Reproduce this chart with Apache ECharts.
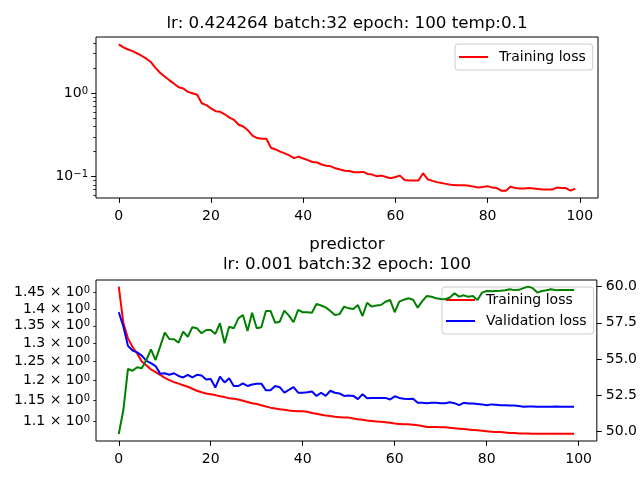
<!DOCTYPE html>
<html>
<head>
<meta charset="utf-8">
<script src="https://cdn.jsdelivr.net/npm/echarts@6/dist/echarts.min.js"></script>
<style>
  html, body { margin: 0; padding: 0; background: #fff; }
  #main { width: 640px; height: 480px; }
</style>
</head>
<body>
<div id="main"></div>
<script>
var chart = echarts.init(document.getElementById('main'));

// top panel: training loss per epoch (log scale)
var topLoss = [
  3.85, 3.55, 3.35, 3.2, 3.0, 2.8, 2.6, 2.35, 2.0, 1.75,
  1.58, 1.43, 1.3, 1.18, 1.14, 1.04, 1.0, 0.96, 0.76, 0.72,
  0.66, 0.61, 0.60, 0.56, 0.51, 0.48, 0.42, 0.40, 0.36, 0.31,
  0.29, 0.285, 0.285, 0.222, 0.212, 0.200, 0.190, 0.180, 0.167, 0.174,
  0.165, 0.158, 0.150, 0.148, 0.140, 0.135, 0.133, 0.126, 0.122, 0.118,
  0.117, 0.113, 0.113, 0.114, 0.108, 0.106, 0.101, 0.103, 0.099, 0.096,
  0.099, 0.103, 0.091, 0.090, 0.090, 0.090, 0.110, 0.093, 0.089, 0.086,
  0.084, 0.082, 0.080, 0.079, 0.079, 0.079, 0.078, 0.076, 0.074, 0.075,
  0.077, 0.074, 0.073, 0.068, 0.068, 0.076, 0.073, 0.072, 0.072, 0.073,
  0.072, 0.071, 0.070, 0.070, 0.070, 0.074, 0.073, 0.073, 0.068, 0.072
];

// bottom panel: predictor losses (left, log) and accuracy (right)
var predTrain = [
  1.469, 1.358, 1.314, 1.29, 1.272, 1.25, 1.24, 1.229, 1.222, 1.215,
  1.207, 1.201, 1.196, 1.192, 1.188, 1.184, 1.179, 1.174, 1.170, 1.167,
  1.165, 1.163, 1.160, 1.158, 1.155, 1.154, 1.152, 1.149, 1.146, 1.143,
  1.141, 1.138, 1.135, 1.132, 1.130, 1.128, 1.127, 1.125, 1.124, 1.123,
  1.123, 1.122, 1.119, 1.117, 1.115, 1.113, 1.112, 1.110, 1.109, 1.108,
  1.108, 1.106, 1.104, 1.103, 1.101, 1.100, 1.099, 1.098, 1.097, 1.096,
  1.094, 1.093, 1.092, 1.092, 1.091, 1.090, 1.088, 1.086, 1.086, 1.086,
  1.085, 1.085, 1.084, 1.083, 1.082, 1.081, 1.080, 1.079, 1.078, 1.077,
  1.076, 1.075, 1.074, 1.074, 1.073, 1.072, 1.072, 1.071, 1.071, 1.071,
  1.070, 1.070, 1.070, 1.070, 1.070, 1.070, 1.070, 1.070, 1.070, 1.070
];

var predVal = [
  1.390, 1.348, 1.293, 1.280, 1.275, 1.266, 1.252, 1.246, 1.238, 1.218,
  1.219, 1.215, 1.219, 1.212, 1.208, 1.215, 1.208, 1.215, 1.213, 1.203,
  1.204, 1.182, 1.210, 1.195, 1.206, 1.186, 1.186, 1.193, 1.186, 1.190,
  1.192, 1.192, 1.175, 1.175, 1.186, 1.183, 1.169, 1.176, 1.183, 1.169,
  1.169, 1.170, 1.172, 1.161, 1.169, 1.161, 1.174, 1.169, 1.167, 1.161,
  1.162, 1.161, 1.153, 1.165, 1.155, 1.156, 1.156, 1.156, 1.156, 1.152,
  1.160, 1.156, 1.154, 1.153, 1.154, 1.144, 1.144, 1.143, 1.144, 1.144,
  1.143, 1.143, 1.145, 1.143, 1.138, 1.144, 1.142, 1.142, 1.141, 1.140,
  1.138, 1.140, 1.139, 1.138, 1.138, 1.137, 1.137, 1.136, 1.134, 1.135,
  1.135, 1.134, 1.134, 1.134, 1.134, 1.135, 1.134, 1.134, 1.134, 1.134
];

var predAcc = [
  49.81, 51.47, 54.31, 54.19, 54.43, 54.36, 54.93, 55.67, 54.93, 55.85,
  56.82, 56.38, 56.36, 56.13, 56.89, 56.54, 57.19, 57.12, 56.78, 57.0,
  57.0, 56.73, 57.47, 56.09, 57.23, 57.12, 57.81, 58.04, 56.94, 58.2,
  57.12, 57.19, 58.32, 58.32, 57.51, 57.58, 58.34, 58.0, 57.54, 58.39,
  58.23, 58.23, 58.2, 58.8, 58.7, 58.57, 58.32, 58.04, 58.1, 58.62,
  58.5, 58.46, 58.73, 57.97, 58.89, 58.62, 58.7, 58.73, 58.96, 59.08,
  58.23, 58.96, 59.1, 59.2, 59.1, 58.55, 59.0, 59.36, 59.3, 59.2,
  59.15, 59.13, 59.25, 59.54, 59.31, 59.4, 59.3, 59.35, 59.08, 59.59,
  59.7, 59.68, 59.7, 59.72, 59.75, 59.82, 59.76, 59.78, 59.9, 60.0,
  59.9, 59.59, 59.7, 59.75, 59.82, 59.76, 59.77, 59.77, 59.77, 59.77
];

var xTicks = [0, 20, 40, 60, 80, 100];
var topMajor = [0.1, 1];
var topMinor = [0.06, 0.07, 0.08, 0.09, 0.2, 0.3, 0.4, 0.5, 0.6, 0.7, 0.8, 0.9, 2, 3, 4];
var lossTicks = [1.1, 1.15, 1.2, 1.25, 1.3, 1.35, 1.4, 1.45];
var accTicks = [50, 52.5, 55, 57.5, 60];

function pairs(arr) {
  var out = [];
  for (var i = 0; i < arr.length; i++) out.push([i, arr[i]]);
  return out;
}

var FONT = 'DejaVu Sans';
var plainLabel = { color: '#000', fontFamily: FONT, fontSize: 14, lineHeight: 15, hideOverlap: false };
// labels with a raised exponent, kept short so no label gets hidden
var powLabelStyle = {
  color: '#000', fontFamily: FONT, fontSize: 14, hideOverlap: false,
  rich: {
    n: { fontFamily: FONT, fontSize: 14, color: '#000', lineHeight: 14, verticalAlign: 'bottom' },
    s: { fontFamily: FONT, fontSize: 10, color: '#000', lineHeight: 4, verticalAlign: 'top' }
  }
};

function xAxisFor(grid) {
  return {
    type: 'value', gridIndex: grid, min: -4.95, max: 103.95,
    axisLine: { show: false, onZero: false },
    axisTick: { show: true, length: 4.9, customValues: xTicks, lineStyle: { color: '#000', width: 1 } },
    axisLabel: Object.assign({}, plainLabel, { margin: 11, customValues: xTicks }),
    splitLine: { show: false }
  };
}

function powLabel(v) {
  var p = Math.round(Math.log10(v));
  return '{n|10}{s|' + (p < 0 ? '\u2212' + (-p) : p) + '}';
}

var legendBase = {
  orient: 'vertical', icon: 'rect',
  padding: [6, 7, 6, 4], itemWidth: 29, itemHeight: 2, itemGap: 7,
  backgroundColor: 'rgba(255,255,255,0.8)', borderColor: '#cccccc', borderWidth: 1, borderRadius: 3,
  textStyle: { fontFamily: FONT, fontSize: 14, lineHeight: 14, color: '#000', padding: [0, 0, 0, 6] }
};

var option = {
  animation: false,
  backgroundColor: '#fff',
  title: [
    {
      text: 'lr: 0.424264 batch:32 epoch: 100 temp:0.1',
      left: 347, top: 14, textAlign: 'center', padding: 0,
      textStyle: { fontFamily: FONT, fontSize: 16.7, fontWeight: 'normal', color: '#000', lineHeight: 20 }
    },
    {
      text: 'predictor\nlr: 0.001 batch:32 epoch: 100',
      left: 347, top: 234, textAlign: 'center', padding: 0,
      textStyle: { fontFamily: FONT, fontSize: 16.7, fontWeight: 'normal', color: '#000', lineHeight: 20.7 }
    }
  ],
  legend: [
    Object.assign({}, legendBase, { data: ['Training loss'], left: 455, top: 44 }),
    Object.assign({}, legendBase, { data: ['Training loss', 'Validation loss'], left: 442, top: 287, z: 1 })
  ],
  grid: [
    { left: 96, right: 42, top: 37, height: 161, show: true, borderColor: '#000', borderWidth: 1, backgroundColor: 'transparent' },
    { left: 96, right: 42, top: 280, height: 161, show: true, borderColor: '#000', borderWidth: 1, backgroundColor: 'transparent' }
  ],
  xAxis: [xAxisFor(0), xAxisFor(1)],
  yAxis: [
    {
      type: 'log', logBase: 10, gridIndex: 0, min: 0.0555, max: 4.73, position: 'left',
      axisLine: { show: false, onZero: false },
      axisTick: { show: true, length: 4.9, customValues: topMajor, lineStyle: { color: '#000', width: 1 } },
      axisLabel: Object.assign({}, powLabelStyle, { margin: 8, customValues: topMajor, formatter: powLabel }),
      splitLine: { show: false }
    },
    {
      type: 'log', logBase: 10, gridIndex: 0, min: 0.0555, max: 4.73, position: 'left',
      axisLine: { show: false, onZero: false },
      axisTick: { show: true, length: 2.8, customValues: topMinor, lineStyle: { color: '#000', width: 0.8 } },
      axisLabel: { show: false },
      splitLine: { show: false }
    },
    {
      type: 'log', logBase: 10, gridIndex: 1, min: 1.0536, max: 1.49, position: 'left',
      axisLine: { show: false, onZero: false },
      axisTick: { show: true, length: 2.8, customValues: lossTicks, lineStyle: { color: '#000', width: 0.8 } },
      axisLabel: Object.assign({}, powLabelStyle, {
        margin: 6, customValues: lossTicks,
        formatter: function (v) { return '{n|' + (+v.toFixed(2)) + ' \u00D7 10}{s|0}'; }
      }),
      splitLine: { show: false }
    },
    {
      type: 'value', gridIndex: 1, min: 49.33, max: 60.46, position: 'right',
      axisLine: { show: false, onZero: false },
      axisTick: { show: true, length: 4.9, customValues: accTicks, lineStyle: { color: '#000', width: 1 } },
      axisLabel: Object.assign({}, plainLabel, {
        margin: 9, customValues: accTicks,
        formatter: function (v) { return v.toFixed(1); }
      }),
      splitLine: { show: false }
    }
  ],
  series: [
    {
      name: 'Training loss', type: 'line', xAxisIndex: 0, yAxisIndex: 0,
      data: pairs(topLoss), showSymbol: false, symbol: 'none',
      lineStyle: { color: '#ff0000', width: 2 }, itemStyle: { color: '#ff0000' }
    },
    {
      name: 'Training loss', type: 'line', xAxisIndex: 1, yAxisIndex: 2,
      data: pairs(predTrain), showSymbol: false, symbol: 'none',
      lineStyle: { color: '#ff0000', width: 2 }, itemStyle: { color: '#ff0000' }
    },
    {
      name: 'Validation loss', type: 'line', xAxisIndex: 1, yAxisIndex: 2,
      data: pairs(predVal), showSymbol: false, symbol: 'none',
      lineStyle: { color: '#0000ff', width: 2 }, itemStyle: { color: '#0000ff' }
    },
    {
      name: 'Accuracy', type: 'line', xAxisIndex: 1, yAxisIndex: 3, z: 5,
      data: pairs(predAcc), showSymbol: false, symbol: 'none',
      lineStyle: { color: '#008000', width: 2 }, itemStyle: { color: '#008000' }
    }
  ]
};

chart.setOption(option);
</script>
</body>
</html>
